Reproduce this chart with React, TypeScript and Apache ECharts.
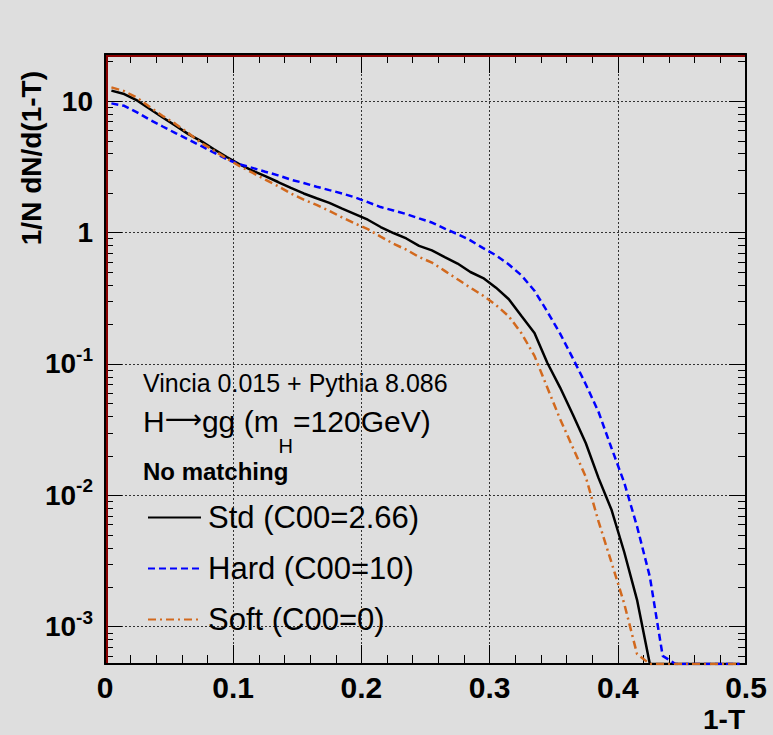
import React, { useEffect, useRef } from "react";
import * as echarts from "echarts";

const FONT = "'Liberation Sans', Arial, Helvetica, sans-serif";

// bin centres of 1-T
const binCenters = [
  0.005, 0.015, 0.025, 0.035, 0.045, 0.055, 0.065, 0.075, 0.085, 0.095,
  0.105, 0.115, 0.125, 0.135, 0.145, 0.155, 0.165, 0.175, 0.185, 0.195,
  0.205, 0.215, 0.225, 0.235, 0.245, 0.255, 0.265, 0.275, 0.285, 0.295,
  0.305, 0.315, 0.325, 0.335, 0.345, 0.355, 0.365, 0.375, 0.385, 0.395,
  0.405, 0.415, 0.425, 0.435, 0.445, 0.455, 0.465, 0.475, 0.485, 0.495,
];

const stdValues = [
  12.0, 11.3, 10.1, 8.7, 7.5, 6.5, 5.6, 4.95, 4.3, 3.75,
  3.3, 2.95, 2.68, 2.42, 2.18, 1.98, 1.82, 1.68, 1.52, 1.38,
  1.25, 1.1, 0.99, 0.9, 0.79, 0.73, 0.65, 0.58, 0.5, 0.45,
  0.38, 0.31, 0.23, 0.172, 0.102, 0.066, 0.041, 0.025, 0.0135, 0.0078,
  0.0037, 0.0016, 0, 0, 0, 0, 0, 0, 0, 0,
];

const hardValues = [
  9.6, 9.2, 8.2, 7.2, 6.4, 5.7, 5.1, 4.55, 4.05, 3.6,
  3.3, 3.1, 2.9, 2.72, 2.52, 2.38, 2.23, 2.1, 1.98, 1.85,
  1.7, 1.56, 1.47, 1.38, 1.28, 1.19, 1.07, 0.97, 0.87, 0.76,
  0.67, 0.57, 0.47, 0.36, 0.25, 0.17, 0.11, 0.07, 0.043, 0.023,
  0.0125, 0.0058, 0.0024, 0.0006, 0, 0, 0, 0, 0, 0,
];

const softValues = [
  12.7, 11.9, 10.6, 9.0, 7.7, 6.7, 5.7, 4.8, 4.2, 3.65,
  3.2, 2.85, 2.52, 2.25, 1.98, 1.78, 1.62, 1.46, 1.3, 1.17,
  1.06, 0.93, 0.82, 0.74, 0.65, 0.59, 0.51, 0.44, 0.38, 0.33,
  0.28, 0.23, 0.17, 0.115, 0.066, 0.038, 0.023, 0.0138, 0.0063, 0.0031,
  0.0015, 0.00062, 0, 0, 0, 0, 0, 0, 0, 0,
];

const seriesNames = ["Std (C00=2.66)", "Hard (C00=10)", "Soft (C00=0)"];
const seriesColors = ["#000000", "#0000ff", "#d2691e"];

const X_MIN = 0;
const X_MAX = 0.5;
const X_INTERVAL = 0.1;
const Y_MIN = 0.00052;
const Y_MAX = 22.8;

// minor log ticks (2..9 x 10^k)
const minorMultipliers = [2, 3, 4, 5, 6, 7, 8, 9];
const decades = [-4, -3, -2, -1, 0, 1];

function Chart() {
  const ref = useRef<HTMLDivElement>(null);

  useEffect(() => {
    if (!ref.current) return;
    const chart = echarts.init(ref.current, undefined, { renderer: "svg" });

    const toData = (vals: number[]) =>
      binCenters.map((x, i) => [x, vals[i] === 0 ? Y_MIN : vals[i]]);

    const mkTick = (len: number) => ({ show: true, inside: true, length: len, lineStyle: { color: "#000", width: 1 } });
    const mkMinor = (len: number) => ({ show: true, splitNumber: 5, length: len, lineStyle: { color: "#000", width: 1 } });
    const mkAxisLine = () => ({ show: true, onZero: false, lineStyle: { color: "#000", width: 2 } });
    const mkGrid = () => ({ show: true, lineStyle: { color: "#333", type: [2, 2], width: 1 } });

    const yLabelFormatter = (v: number) => {
      const l = Math.log10(v);
      const e = Math.round(l);
      if (Math.abs(l - e) > 1e-6) return "";
      if (e === 0) return "1";
      if (e === 1) return "10";
      return `{b|10}{s|${e}}`;
    };

    const baseGraphic: any[] = [
      { type: "line", z: 100, shape: { x1: 107, y1: 55, x2: 107, y2: 663 }, style: { stroke: "#8b0000", lineWidth: 2 } },
      { type: "line", z: 100, shape: { x1: 106, y1: 56, x2: 745, y2: 56 }, style: { stroke: "#8b0000", lineWidth: 2 } },
      {
        type: "text", x: 31, y: 71, rotation: Math.PI / 2,
        style: { text: "1/N dN/d(1-T)", fontSize: 28, fontWeight: "bold", fontFamily: FONT, fill: "#000", align: "right", verticalAlign: "middle" },
      },
      {
        type: "text", x: 745, y: 719,
        style: { text: "1-T", fontSize: 28, fontWeight: "bold", fontFamily: FONT, fill: "#000", align: "right", verticalAlign: "middle" },
      },
      {
        type: "text", x: 143, y: 383,
        style: { text: "Vincia 0.015 + Pythia 8.086", fontSize: 25, fontFamily: FONT, fill: "#000", verticalAlign: "middle" },
      },
      {
        type: "text", x: 143, y: 406,
        style: {
          text: "{a|H}{r|⟶}{a|gg (m}{b|H}{a|=120GeV)}",
          verticalAlign: "top",
          fill: "#000",
          rich: {
            a: { fontSize: 30, lineHeight: 30, fontFamily: FONT, fill: "#000", verticalAlign: "top" },
            r: { fontSize: 26, lineHeight: 30, fontFamily: "'DejaVu Sans', sans-serif", fill: "#000", verticalAlign: "top" },
            b: { fontSize: 20, lineHeight: 50, fontFamily: FONT, fill: "#000", verticalAlign: "bottom" },
          },
        },
      },
      {
        type: "text", x: 143, y: 471,
        style: { text: "No matching", fontSize: 24, fontWeight: "bold", fontFamily: FONT, fill: "#000", verticalAlign: "middle" },
      },
    ];

    const option: any = {
      animation: false,
      backgroundColor: "#dedede",
      grid: { left: 105, right: 27, top: 54, bottom: 71 },
      legend: {
        data: seriesNames,
        orient: "vertical",
        left: 142,
        top: 497,
        itemWidth: 53,
        itemHeight: 30,
        itemGap: 20,
        itemStyle: { opacity: 0 },
        textStyle: { fontSize: 31, color: "#000", fontFamily: FONT, lineHeight: 30, padding: [0, 0, 0, 2] },
      },
      xAxis: [
        {
          type: "value",
          min: X_MIN,
          max: X_MAX,
          interval: X_INTERVAL,
          position: "bottom",
          axisLine: mkAxisLine(),
          axisTick: mkTick(19),
          minorTick: mkMinor(9),
          splitLine: mkGrid(),
          axisLabel: {
            margin: 8,
            color: "#000",
            fontSize: 30,
            fontWeight: "bold",
            fontFamily: FONT,
            formatter: (v: number) => (v === 0 ? "0" : String(+v.toFixed(1))),
          },
        },
        {
          type: "value",
          min: X_MIN,
          max: X_MAX,
          interval: X_INTERVAL,
          position: "top",
          axisLine: mkAxisLine(),
          axisTick: mkTick(19),
          minorTick: mkMinor(9),
          splitLine: { show: false },
          axisLabel: { show: false },
        },
      ],
      yAxis: [
        {
          type: "log",
          logBase: 10,
          min: Y_MIN,
          max: Y_MAX,
          position: "left",
          axisLine: mkAxisLine(),
          axisTick: mkTick(17),
          splitLine: mkGrid(),
          axisLabel: {
            margin: 12,
            color: "#000",
            fontSize: 28,
            fontWeight: "bold",
            fontFamily: FONT,
            showMinLabel: false,
            showMaxLabel: false,
            formatter: yLabelFormatter,
            rich: {
              b: { fontSize: 28, fontWeight: "bold", fontFamily: FONT, color: "#000", lineHeight: 28, padding: [18, 0, 0, 0], verticalAlign: "bottom" },
              s: { fontSize: 19, fontWeight: "bold", fontFamily: FONT, color: "#000", lineHeight: 14, padding: [0, 0, 14, 0], verticalAlign: "bottom" },
            },
          },
        },
        {
          type: "log",
          logBase: 10,
          min: Y_MIN,
          max: Y_MAX,
          position: "right",
          axisLine: mkAxisLine(),
          axisTick: mkTick(17),
          splitLine: { show: false },
          axisLabel: { show: false },
        },
      ],
      series: [
        { name: seriesNames[0], type: "line", data: toData(stdValues), symbol: "none", color: seriesColors[0], lineStyle: { color: seriesColors[0], width: 2.5, type: "solid" } },
        { name: seriesNames[1], type: "line", data: toData(hardValues), symbol: "none", color: seriesColors[1], lineStyle: { color: seriesColors[1], width: 2.5, type: [7, 4] } },
        { name: seriesNames[2], type: "line", data: toData(softValues), symbol: "none", color: seriesColors[2], lineStyle: { color: seriesColors[2], width: 2.5, type: [8, 4, 2, 4] } },
      ],
      graphic: baseGraphic,
    };

    chart.setOption(option);

    // minor log ticks on left and right frame edges, positioned through the y axis scale
    const minorTickEls: any[] = [];
    const left = 105;
    const right = 773 - 27;
    decades.forEach((d) =>
      minorMultipliers.forEach((m) => {
        const v = m * Math.pow(10, d);
        if (v <= Y_MIN || v >= Y_MAX) return;
        const py = chart.convertToPixel({ yAxisIndex: 0 }, v) as any;
        if (typeof py !== "number" || isNaN(py)) return;
        const y = Math.round(py) + 0.5;
        minorTickEls.push(
          { type: "line", shape: { x1: left, y1: y, x2: left + 8, y2: y }, style: { stroke: "#000", lineWidth: 1 } },
          { type: "line", shape: { x1: right - 8, y1: y, x2: right, y2: y }, style: { stroke: "#000", lineWidth: 1 } }
        );
      })
    );
    chart.setOption({ graphic: [...baseGraphic, ...minorTickEls] });

    return () => chart.dispose();
  }, []);

  return <div ref={ref} style={{ width: 773, height: 735 }} />;
}

export default function App() {
  return (
    <div style={{ position: "fixed", left: 0, top: 0, width: 773, height: 735 }}>
      <Chart />
    </div>
  );
}
